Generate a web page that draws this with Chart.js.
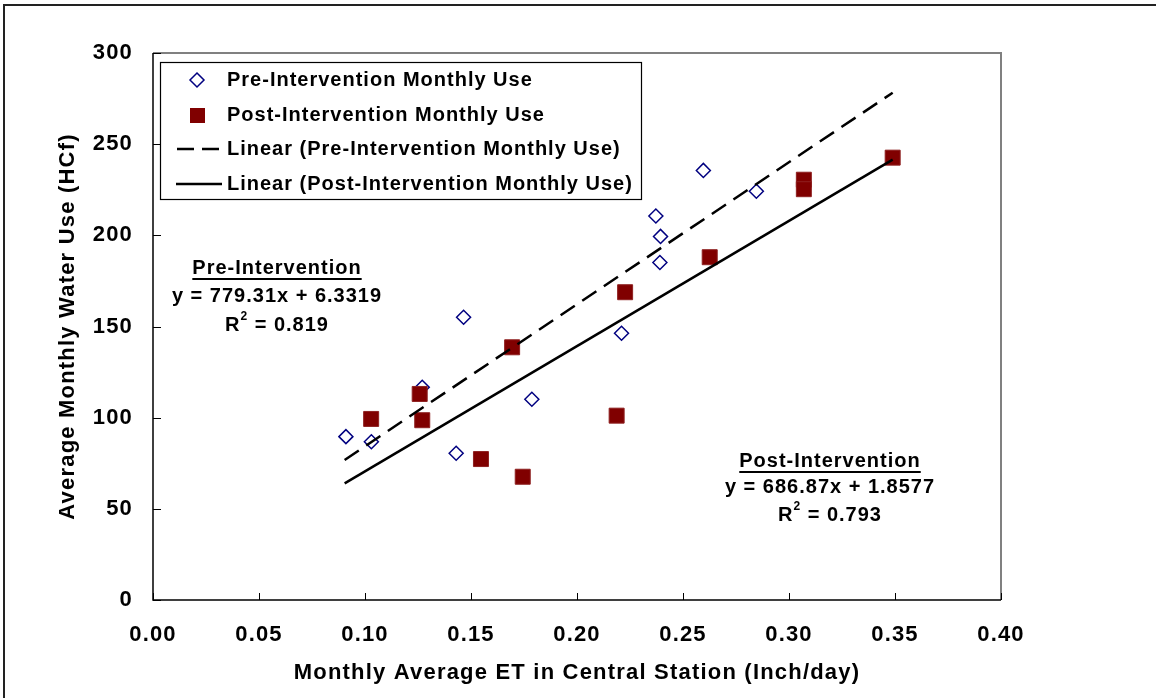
<!DOCTYPE html>
<html>
<head>
<meta charset="utf-8">
<script src="https://cdn.jsdelivr.net/npm/chart.js@4.4.1/dist/chart.umd.min.js"></script>
<style>
  html, body { margin: 0; padding: 0; background: #fff; }
  canvas { display: block; }
</style>
</head>
<body>
<canvas id="chart" width="1156" height="698"></canvas>
<script>
// Pre-intervention monthly use (ET inch/day, HCf)
const preX = [0.091, 0.103, 0.127, 0.143, 0.1465, 0.1787, 0.221, 0.2372, 0.2391, 0.2394, 0.2596, 0.2846];
const preY = [89.6, 86.8, 116.7, 80.5, 155.1, 110.1, 146.3, 210.6, 185.1, 199.4, 235.6, 224.2];

// Post-intervention monthly use
const postX = [0.1029, 0.1258, 0.127, 0.1547, 0.1694, 0.1744, 0.2187, 0.2227, 0.2626, 0.307, 0.307, 0.3489];
const postY = [99.3, 113.0, 98.6, 77.3, 138.6, 67.6, 101.1, 168.8, 188.0, 230.5, 225.3, 242.6];

// Trendline end points
const trendX = [0.0904, 0.3489];
const preTrendY = [76.8, 278.2];
const postTrendY = [64.0, 241.5];

const seriesLabels = [
    'Pre-Intervention Monthly Use',
    'Post-Intervention Monthly Use',
    'Linear (Pre-Intervention Monthly Use)',
    'Linear (Post-Intervention Monthly Use)'
];

const preNote = ['Pre-Intervention', 'y = 779.31x + 6.3319', '0.819'];
const postNote = ['Post-Intervention', 'y = 686.87x + 1.8577', '0.793'];

const FONT = "'Liberation Sans', Arial, Helvetica, sans-serif";
Chart.defaults.font.family = FONT;
Chart.defaults.color = '#000';

function toPoints(xs, ys) {
    return xs.map((x, i) => ({x: x, y: ys[i]}));
}

// draws "R² = value" centred at cx
function drawR2(ctx, cx, cy, value) {
    ctx.font = 'bold 20px ' + FONT;
    const rest = ' = ' + value;
    const wR = ctx.measureText('R').width;
    ctx.font = 'bold 12px ' + FONT;
    const w2 = ctx.measureText('2').width;
    ctx.font = 'bold 20px ' + FONT;
    const wRest = ctx.measureText(rest).width;
    let x = cx - (wR + w2 + wRest) / 2;
    ctx.textAlign = 'left';
    ctx.fillText('R', x, cy);
    x += wR;
    ctx.font = 'bold 12px ' + FONT;
    ctx.fillText('2', x, cy - 8);
    x += w2;
    ctx.font = 'bold 20px ' + FONT;
    ctx.fillText(rest, x, cy);
}

function drawNote(ctx, lines, cx, ys) {
    ctx.fillStyle = '#000';
    ctx.textBaseline = 'middle';
    ctx.textAlign = 'center';
    ctx.font = 'bold 20px ' + FONT;
    ctx.fillText(lines[0], cx, ys[0]);
    const w = ctx.measureText(lines[0]).width;
    ctx.fillRect(cx - w / 2, ys[0] + 10, w, 2);
    ctx.fillText(lines[1], cx, ys[1]);
    drawR2(ctx, cx, ys[2], lines[2]);
}

const framePlugin = {
    id: 'framePlugin',
    beforeDraw(chart) {
        const ctx = chart.ctx;
        ctx.save();
        ctx.fillStyle = '#fff';
        ctx.fillRect(0, 0, chart.width, chart.height);
        ctx.restore();
        ctx.letterSpacing = '1.2px';
    },
    beforeDatasetsDraw(chart) {
        const ctx = chart.ctx;
        const a = chart.chartArea;
        const xs = chart.scales.x, ys = chart.scales.y;
        ctx.save();
        // top and right border of plot area in grey
        ctx.strokeStyle = '#808080';
        ctx.lineWidth = 2;
        ctx.beginPath();
        ctx.moveTo(a.left, a.top);
        ctx.lineTo(a.right, a.top);
        ctx.lineTo(a.right, a.bottom);
        ctx.stroke();
        // axes in black
        ctx.strokeStyle = '#000';
        ctx.lineWidth = 1.5;
        ctx.beginPath();
        ctx.moveTo(a.left, a.top);
        ctx.lineTo(a.left, a.bottom);
        ctx.lineTo(a.right, a.bottom);
        ctx.stroke();
        // inward tick marks
        ctx.lineWidth = 1;
        ctx.beginPath();
        xs.ticks.forEach(t => {
            const px = Math.round(xs.getPixelForValue(t.value)) + 0.5;
            ctx.moveTo(px, a.bottom);
            ctx.lineTo(px, a.bottom - 7);
        });
        ys.ticks.forEach(t => {
            const py = Math.round(ys.getPixelForValue(t.value)) + 0.5;
            ctx.moveTo(a.left, py);
            ctx.lineTo(a.left + 8, py);
        });
        ctx.stroke();
        ctx.restore();
    },
    afterDraw(chart) {
        const ctx = chart.ctx;
        const ds = chart.data.datasets;
        ctx.save();
        ctx.letterSpacing = '1px';

        // legend box
        const box = {left: 160, top: 62, right: 641, bottom: 199};
        ctx.fillStyle = '#fff';
        ctx.fillRect(box.left, box.top, box.right - box.left, box.bottom - box.top);
        ctx.strokeStyle = '#000';
        ctx.lineWidth = 1.2;
        ctx.strokeRect(box.left + 0.5, box.top + 0.5, box.right - box.left, box.bottom - box.top);

        const rowY = [80, 115, 149, 184];
        const markX = 197;
        // diamond
        ctx.strokeStyle = ds[0].borderColor;
        ctx.lineWidth = ds[0].borderWidth;
        ctx.beginPath();
        ctx.moveTo(markX, rowY[0] - 7);
        ctx.lineTo(markX + 7, rowY[0]);
        ctx.lineTo(markX, rowY[0] + 7);
        ctx.lineTo(markX - 7, rowY[0]);
        ctx.closePath();
        ctx.stroke();
        // square
        ctx.fillStyle = ds[1].backgroundColor;
        ctx.fillRect(markX - 7, rowY[1] - 7, 15, 15);
        // dashed and solid line samples
        ctx.strokeStyle = '#000';
        ctx.lineWidth = 2.5;
        ctx.setLineDash([17, 8]);
        ctx.beginPath();
        ctx.moveTo(177, rowY[2]);
        ctx.lineTo(222, rowY[2]);
        ctx.stroke();
        ctx.setLineDash([]);
        ctx.beginPath();
        ctx.moveTo(176, rowY[3]);
        ctx.lineTo(222, rowY[3]);
        ctx.stroke();

        ctx.fillStyle = '#000';
        ctx.font = 'bold 20px ' + FONT;
        ctx.textAlign = 'left';
        ctx.textBaseline = 'middle';
        seriesLabels.forEach((s, i) => ctx.fillText(s, 227, rowY[i]));

        // regression notes
        drawNote(ctx, preNote, 277, [268, 296, 325]);
        drawNote(ctx, postNote, 830, [461, 487, 515]);

        // outer chart frame (top and left edges are visible)
        ctx.strokeStyle = '#222';
        ctx.lineWidth = 2;
        ctx.beginPath();
        ctx.moveTo(4, chart.height + 5);
        ctx.lineTo(4, 5);
        ctx.lineTo(chart.width + 5, 5);
        ctx.stroke();
        ctx.restore();
    }
};

const ctx = document.getElementById('chart').getContext('2d');
const chart = new Chart(ctx, {
    type: 'scatter',
    data: {
        datasets: [
            {
                label: seriesLabels[0],
                data: toPoints(preX, preY),
                pointStyle: 'rectRot',
                pointRadius: 7,
                pointHoverRadius: 7,
                borderWidth: 1.5,
                borderColor: '#000080',
                backgroundColor: 'rgba(0,0,0,0)',
                order: 3
            },
            {
                label: seriesLabels[1],
                data: toPoints(postX, postY),
                pointStyle: 'rect',
                pointRadius: 10.6,
                pointHoverRadius: 10.6,
                borderWidth: 1,
                borderColor: '#8e2020',
                backgroundColor: '#800000',
                order: 2
            },
            {
                type: 'line',
                label: seriesLabels[2],
                data: toPoints(trendX, preTrendY),
                borderColor: '#000',
                borderWidth: 2.5,
                borderDash: [17, 9],
                pointRadius: 0,
                fill: false,
                order: 1
            },
            {
                type: 'line',
                label: seriesLabels[3],
                data: toPoints(trendX, postTrendY),
                borderColor: '#000',
                borderWidth: 2.5,
                pointRadius: 0,
                fill: false,
                order: 0
            }
        ]
    },
    options: {
        responsive: false,
        animation: false,
        devicePixelRatio: 1,
        layout: {
            padding: {left: 0, top: 53, right: 155, bottom: 0}
        },
        plugins: {
            legend: {display: false},
            tooltip: {enabled: false}
        },
        scales: {
            x: {
                type: 'linear',
                min: 0,
                max: 0.4,
                grid: {display: false, drawTicks: false},
                border: {display: false},
                ticks: {
                    stepSize: 0.05,
                    padding: 22,
                    color: '#000',
                    font: {size: 22, weight: 'bold'},
                    callback: v => v.toFixed(2)
                },
                title: {
                    display: true,
                    text: 'Monthly Average ET in Central Station (Inch/day)',
                    color: '#000',
                    font: {size: 22, weight: 'bold'},
                    padding: {top: 0, bottom: 12}
                },
                afterFit(scale) { scale.height = 98; }
            },
            y: {
                min: 0,
                max: 300,
                grid: {display: false, drawTicks: false},
                border: {display: false},
                ticks: {
                    stepSize: 50,
                    padding: 20,
                    color: '#000',
                    font: {size: 22, weight: 'bold'}
                },
                title: {
                    display: true,
                    text: 'Average Monthly Water Use (HCf)',
                    color: '#000',
                    font: {size: 22, weight: 'bold'},
                    padding: {top: 55, bottom: 0}
                },
                afterFit(scale) { scale.width = 153; }
            }
        }
    },
    plugins: [framePlugin]
});
</script>
</body>
</html>
